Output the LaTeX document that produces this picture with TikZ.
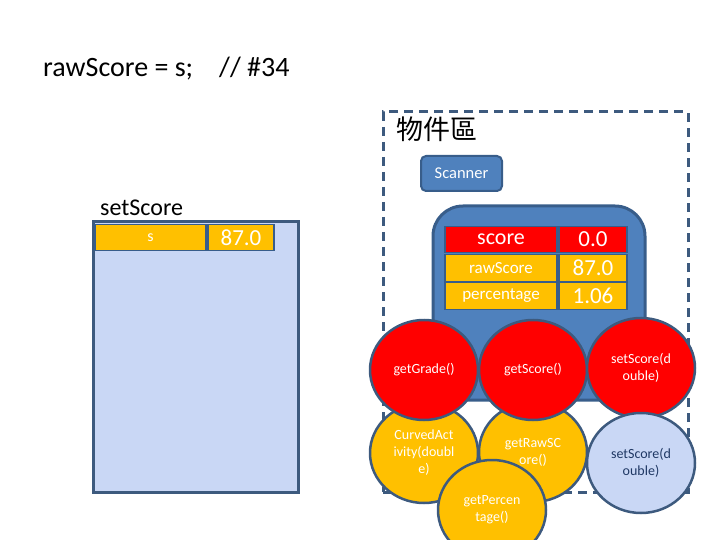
\documentclass[tikz,border=0pt]{standalone}
\usepackage{fontspec}
\setmainfont{Carlito}
\newfontfamily\cjk{Noto Sans CJK TC}
\usetikzlibrary{shapes.geometric}
\definecolor{blu}{HTML}{4F81BD}
\definecolor{bord}{HTML}{385D8A}
\definecolor{dashc}{HTML}{3D5A7E}
\definecolor{org}{HTML}{FFC000}
\definecolor{texfill}{HTML}{C9D7F5}
\definecolor{dtext}{HTML}{1F3864}
\tikzset{
  cell/.style={rectangle, draw=bord, line width=1.2pt, inner sep=0pt, text=white, minimum height=26.5pt},
  meth/.style={ellipse, draw=dashc, line width=2.5pt, minimum width=108pt, minimum height=100pt, inner sep=0pt, align=center, text=white, font=\fontsize{14}{17}\selectfont},
  redm/.style={meth, fill=red},
  orgm/.style={meth, fill=org},
  lightm/.style={meth, fill=texfill, text=dtext},
}
\begin{document}
\begin{tikzpicture}[x=1pt,y=-1pt]
\useasboundingbox (0,0) rectangle (720,540);
\clip (0,0) rectangle (720,540);
% title
\node[anchor=base west, inner sep=0pt, font=\fontsize{28}{32}\selectfont] (title) at (43,77) {rawScore = s;\hspace{26pt}// \#34};
% object area
\node[rectangle, draw=dashc, line width=3pt, dash pattern=on 9pt off 6pt, minimum width=305pt, minimum height=380pt, inner sep=0pt] (area) at (535.5,302) {};
\node[anchor=base west, inner sep=0pt, font=\cjk\fontsize{27}{30}\selectfont] (arealbl) at (396,140) {物件區};
\node[rectangle, rounded corners=5pt, fill=blu, draw=bord, line width=2pt, minimum width=81pt, minimum height=35pt, inner sep=0pt, text=white, font=\fontsize{16.5}{18}\selectfont] (scanner) at (461.5,173.5) {Scanner};
% setScore frame
\node[anchor=base west, inner sep=0pt, font=\fontsize{24}{28}\selectfont] (setlbl) at (100,215) {setScore};
\node[rectangle, fill=texfill, draw=dashc, line width=3pt, minimum width=205pt, minimum height=270pt, inner sep=0pt] (frame) at (195.5,357) {};
\node[cell, fill=org, minimum width=111pt, font=\fontsize{16}{18}\selectfont] (s) at (150.5,237.5) {s};
\node[cell, fill=org, minimum width=66pt, font=\fontsize{23}{26}\selectfont] (sv) at (241,237.5) {87.0};
% object
\node[rectangle, rounded corners=30pt, fill=blu, draw=bord, line width=3pt, minimum width=212pt, minimum height=194pt, inner sep=0pt] (obj) at (539,303) {};
\node[cell, fill=red, minimum width=112pt, font=\fontsize{22}{24}\selectfont] (score) at (501,239.5) {score};
\node[cell, fill=red, minimum width=68pt, font=\fontsize{23}{26}\selectfont] (scorev) at (593,239.5) {0.0};
\node[cell, fill=org, minimum width=112pt, font=\fontsize{17}{20}\selectfont] (raw) at (501,268) {rawScore};
\node[cell, fill=org, minimum width=68pt, font=\fontsize{23}{26}\selectfont] (rawv) at (593,268) {87.0};
\node[cell, fill=org, minimum width=112pt, font=\fontsize{17}{20}\selectfont] (pct) at (501,296) {percentage};
\node[cell, fill=org, minimum width=68pt, font=\fontsize{23}{26}\selectfont] (pctv) at (593,296) {1.06};
% methods
\node[orgm] (curved) at (424,453) {CurvedAct\\ivity(doubl\\e)};
\node[orgm] (getraw) at (533,452) {getRawSC\\ore()};
\node[redm] (getgrade) at (424,370) {getGrade()};
\node[redm] (getscore) at (533,370) {getScore()};
\node[redm] (setscore) at (641,368) {setScore(d\\ouble)};
\node[lightm] (setscore2) at (641,463) {setScore(d\\ouble)};
\node[orgm] (getpct) at (492,510) {getPercen\\tage()};
\end{tikzpicture}
\end{document}
